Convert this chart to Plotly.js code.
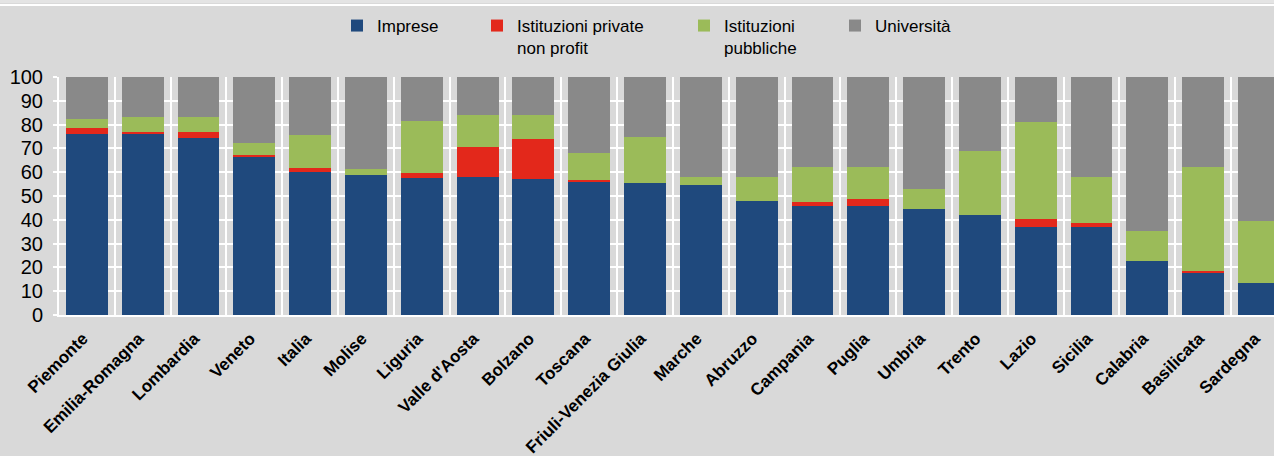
<!DOCTYPE html>
<html>
<head>
<meta charset="utf-8">
<script src="https://cdn.plot.ly/plotly-3.0.1.min.js"></script>
<style>
html,body{margin:0;padding:0;background:#d9d9d9;}
#chart{width:1274px;height:456px;}
</style>
</head>
<body>
<div id="chart"></div>
<script>
const regioni = ["Piemonte","Emilia-Romagna","Lombardia","Veneto","Italia","Molise","Liguria","Valle d'Aosta","Bolzano","Toscana","Friuli-Venezia Giulia","Marche","Abruzzo","Campania","Puglia","Umbria","Trento","Lazio","Sicilia","Calabria","Basilicata","Sardegna"];
const imprese =    [76.2,76.2,74.5,66.3,60.2,58.7,57.7,57.9,57.0,56.0,55.3,54.5,47.8,45.9,45.9,44.4,41.9,36.8,36.8,22.6,17.5,13.4];
const privateNP =  [2.5,0.8,2.5,0.8,1.7,0.1,1.8,12.6,16.8,0.9,0.1,0.1,0.1,1.7,2.7,0.1,0.1,3.4,1.7,0.1,1.0,0.1];
const pubbliche =  [3.5,6.0,6.0,5.0,13.7,2.5,21.9,13.4,10.1,11.1,19.3,3.4,10.1,14.6,13.6,8.3,26.8,41.0,19.5,12.6,43.7,26.0];
const universita = [17.8,17.0,17.0,27.9,24.4,38.7,18.6,16.1,16.1,32.0,25.3,42.0,42.0,37.8,37.8,47.2,31.2,18.8,42.0,64.7,37.8,60.5];
const yTicks = [0,10,20,30,40,50,60,70,80,90,100];

const seriesNames = ["Imprese","Istituzioni private<br>non profit","Istituzioni<br>pubbliche","Università"];
const seriesVals = [imprese, privateNP, pubbliche, universita];
const colors = ["#1f497d","#e3281b","#9bbb59","#898989"];
const legendIds = ["legend","legend2","legend3","legend4"];

const traces = seriesVals.map((v,i)=>({
  type:"bar", x: regioni, y: v, name: seriesNames[i],
  marker:{color: colors[i], line:{width:0}},
  legend: legendIds[i],
  hoverinfo:"x+y+name"
}));

const L = 59, W = 1274 - L;
const px2x = p => (p - L)/W;
const T = 77, B = 315, H = B - T;
const py2y = p => (B - p)/H;

const FONT = "'Liberation Sans',Arial,sans-serif";
const legFont = {family:FONT, size:17, color:"#000"};
function leg(textLeftPx){
  return {x: px2x(textLeftPx - 40), xanchor:"left", y: py2y(8), yanchor:"top",
    orientation:"h", bgcolor:"rgba(0,0,0,0)", borderwidth:0, font:legFont,
    itemwidth:30, valign:"top", traceorder:"normal"};
}

const layout = {
  width:1274, height:456,
  margin:{l:L, r:0, t:T, b:456-B, pad:0},
  paper_bgcolor:"#d9d9d9", plot_bgcolor:"#d9d9d9",
  barmode:"stack", bargap:0.25,
  showlegend:true,
  legend: leg(377), legend2: leg(517), legend3: leg(724), legend4: leg(875),
  xaxis:{
    type:"category", range:[-0.5, 21.27], tickson:"boundaries",
    showgrid:true, gridcolor:"#ffffff", gridwidth:2,
    showline:true, linecolor:"#ffffff", linewidth:2,
    ticks:"", tickangle:-45, ticklabelstandoff:5, ticklabelshift:-4,
    tickfont:{family:FONT, size:17, color:"#000", weight:"bold"},
    fixedrange:true
  },
  yaxis:{
    range:[0,100], tickvals:yTicks, ticktext:yTicks.map(String),
    showgrid:true, gridcolor:"#ffffff", gridwidth:2,
    showline:true, linecolor:"#ffffff", linewidth:2,
    ticks:"outside", ticklen:4, tickcolor:"#ffffff", tickwidth:2,
    ticklabelstandoff:6,
    tickfont:{family:FONT, size:20, color:"#000"},
    zeroline:false, fixedrange:true
  },
  shapes:[
    {type:"rect", xref:"paper", yref:"paper", x0:px2x(0), x1:1, y0:py2y(3), y1:py2y(0), fillcolor:"#e4e4e4", line:{width:0}, layer:"below"},
    {type:"line", xref:"paper", yref:"paper", x0:px2x(0), x1:1, y0:py2y(5), y1:py2y(5), line:{color:"#ffffff", width:2}}
  ]
};

Plotly.newPlot("chart", traces, layout, {displayModeBar:false, staticPlot:true});
</script>
</body>
</html>
